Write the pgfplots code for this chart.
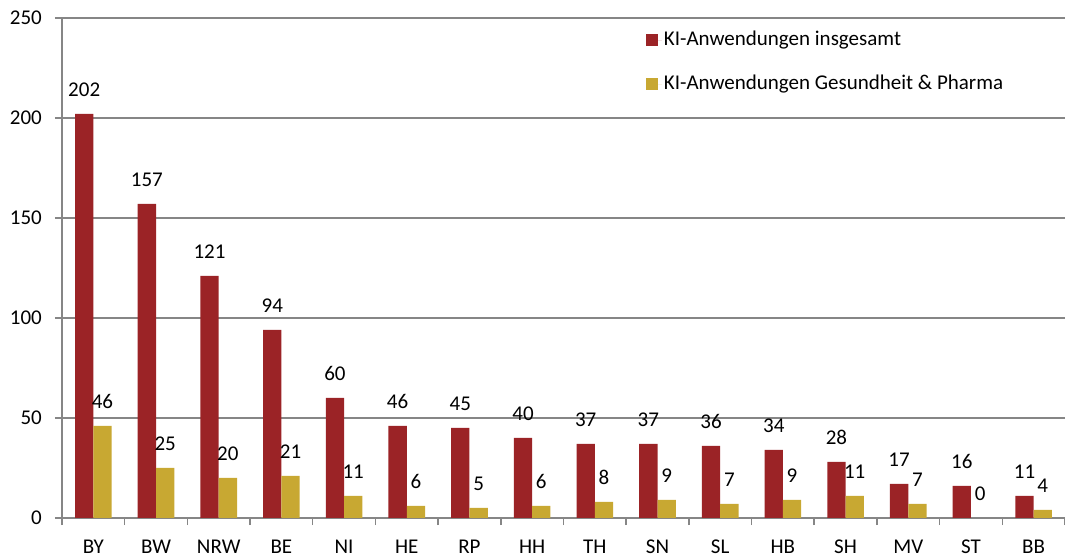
\documentclass[border=0pt]{standalone}
\usepackage{fontspec}
\setmainfont{Carlito}
\usepackage{pgfplots}
\pgfplotsset{compat=1.18}
\definecolor{kired}{RGB}{155,35,38}
\definecolor{kigold}{RGB}{200,168,50}
\definecolor{gridgray}{RGB}{134,134,134}
\newcommand{\chfont}{\fontsize{21bp}{25bp}\selectfont}
\begin{document}
\chfont
\begin{tikzpicture}
\useasboundingbox (-62bp,-40bp) rectangle (1003bp,518bp);
\begin{axis}[
  at={(0,0)}, anchor=south west,
  scale only axis, width=1003bp, height=500bp,
  xmin=-0.5, xmax=15.5, ymin=0, ymax=250,
  ybar=0pt, bar width=18.3bp,
  axis x line*=bottom, axis y line*=left,
  axis line style={gridgray, line width=1.5bp, -},
  ymajorgrids, major grid style={gridgray, line width=1.3bp},
  ytick={0,50,...,250},
  xtick={0,...,15},
  xticklabels={BY,BW,NRW,BE,NI,HE,RP,HH,TH,SN,SL,HB,SH,MV,ST,BB},
  minor xtick={-0.5,0.5,...,15.5},
  tick align=outside,
  major tick length=7bp, minor tick length=7bp,
  major x tick style={draw=none},
  minor x tick style={gridgray, line width=1.5bp},
  major y tick style={gridgray, line width=1.5bp},
  /pgf/number format/assume math mode=true,
  tick label style={font=\chfont, text=black},
  xticklabel style={yshift=-8bp},
  yticklabel style={xshift=-6bp},
  nodes near coords,
  every node near coord/.append style={font=\chfont, text=black, yshift=10bp},
  legend style={draw=none, fill=none, font=\chfont, at={(0.579,0.983)}, anchor=north west, row sep=23bp},
  legend cell align=left,
]
\addplot[fill=kired, draw=none, legend image code/.code={\fill[kired] (0bp,-6bp) rectangle (12bp,6bp); \path (0bp,0bp) rectangle (16bp,0bp);}] coordinates {
(0,202) (1,157) (2,121) (3,94) (4,60) (5,46) (6,45) (7,40) (8,37) (9,37) (10,36) (11,34) (12,28) (13,17) (14,16) (15,11)};
\addlegendentry{KI-Anwendungen insgesamt}
\addplot[fill=kigold, draw=none, legend image code/.code={\fill[kigold] (0bp,-6bp) rectangle (12bp,6bp); \path (0bp,0bp) rectangle (16bp,0bp);}] coordinates {
(0,46) (1,25) (2,20) (3,21) (4,11) (5,6) (6,5) (7,6) (8,8) (9,9) (10,7) (11,9) (12,11) (13,7) (14,0) (15,4)};
\addlegendentry{KI-Anwendungen Gesundheit \& Pharma}
\end{axis}
\end{tikzpicture}
\end{document}
